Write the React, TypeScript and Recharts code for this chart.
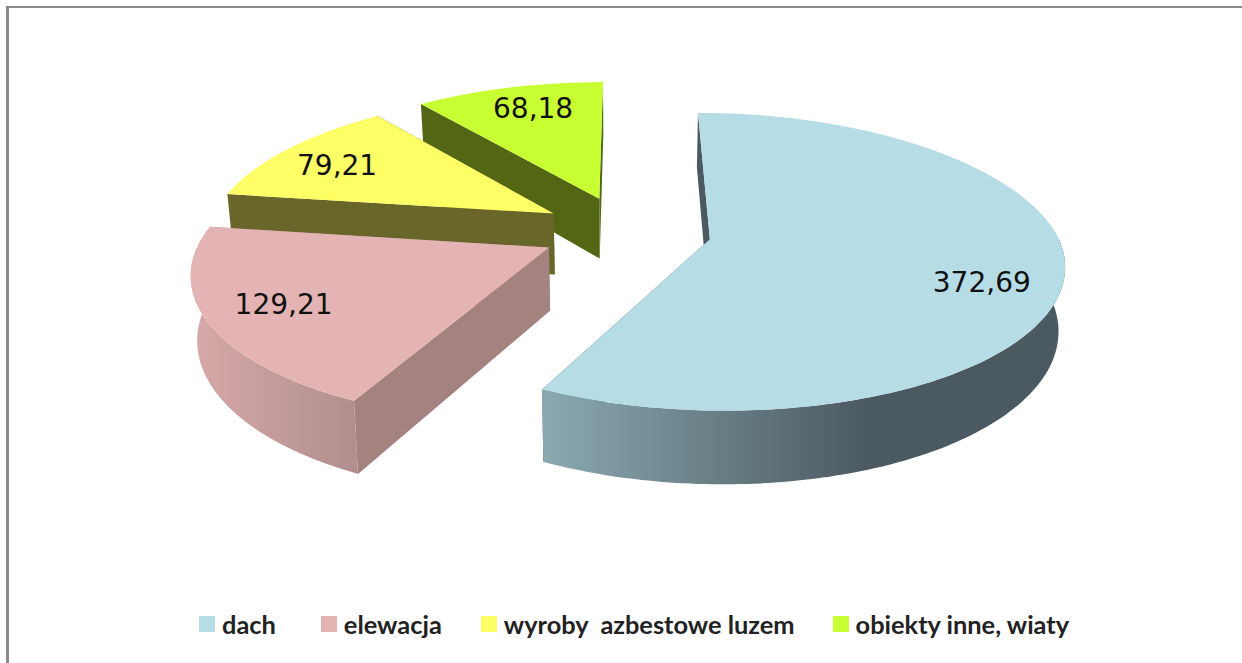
import { PieChart, Pie, Legend } from 'recharts';

const CATEGORIES = ['dach', 'elewacja', 'wyroby  azbestowe luzem', 'obiekty inne, wiaty'];
const VALUES = [372.69, 129.21, 79.21, 68.18];
const COLORS = ['#b6dce6', '#e4b4b4', '#ffff66', '#c8ff33'];
const WALLS = ['#4b5a60', '#a38280', '#686629', '#536614'];
const WALL_LEFT = ['#8ba9b1', '#d8a9a9', '#686629', '#536614'];
const WALL_RIGHT = ['#4b5a60', '#b08e8e', '#686629', '#536614'];

// slices are listed back to front so the nearer ones paint over the further ones
const order = [3, 2, 1, 0];
const pieData = order.map(i => ({
  name: CATEGORIES[i],
  value: VALUES[i],
  fill: COLORS[i],
  wall: WALLS[i],
  wallLeft: WALL_LEFT[i],
  wallRight: WALL_RIGHT[i],
  idx: i,
}));

const SQUASH = 143 / 346;
const PERSPECTIVE_Y = 0.15;
const PERSPECTIVE_X_BACK = 0.165;
const PERSPECTIVE_X_FRONT = 0.15;
const EXPLODE = 0.247;
const DEPTH = 62;
const BOTTOM_SCALE = 0.985;
const LABEL_FRACTION = 0.8;
const LABEL_SHIFT = [[-10, 16], [4, -1], [-1, 4], [8, 1]];
const LEGEND_GAPS = [45, 39, 38, 0];

const rad = (d: number) => (d * Math.PI) / 180;
const midAngleOf = (a: number, b: number) => (a + b) / 2;

function Slice3D(props: any) {
  const { cx, cy, outerRadius: R, startAngle, endAngle, midAngle, payload } = props;
  const ex = EXPLODE * Math.cos(rad(midAngle));
  const ey = EXPLODE * Math.sin(rad(midAngle));
  const project = (a: number, f: number, low: boolean) => {
    const u = f * Math.cos(rad(a)) + ex;
    const v = f * Math.sin(rad(a)) + ey;
    const sx = 1 / (1 + (v < 0 ? PERSPECTIVE_X_FRONT : PERSPECTIVE_X_BACK) * v);
    const sy = 1 / (1 + PERSPECTIVE_Y * v);
    const x = R * u * sx * (low ? BOTTOM_SCALE : 1);
    const y = -R * SQUASH * v * sy + (low ? DEPTH * sy : 0);
    return `${(cx + x).toFixed(1)} ${(cy + y).toFixed(1)}`;
  };
  const a0 = Math.min(startAngle, endAngle);
  const a1 = Math.max(startAngle, endAngle);
  const arc: number[] = [];
  for (let a = a0; a < a1; a += 1) arc.push(a);
  arc.push(a1);
  const front = arc.filter(a => Math.sin(rad(a)) < 0.02);

  const top = `M${project(0, 0, false)} L${arc.map(a => project(a, 1, false)).join(' L')} Z`;
  const wall = (a: number) =>
    `M${project(a, 0, false)} L${project(a, 1, false)} L${project(a, 1, true)} L${project(a, 0, true)} Z`;
  const outer = front.length
    ? `M${front.map(a => project(a, 1, false)).join(' L')} L${[...front].reverse().map(a => project(a, 1, true)).join(' L')} Z`
    : '';
  const gradId = `outer-${payload.idx}`;

  const labelPos = project(midAngleOf(a0, a1), LABEL_FRACTION, false).split(' ').map(Number);
  const shift = LABEL_SHIFT[payload.idx];

  return (
    <g>
      <defs>
        <linearGradient id={gradId} x1="0" y1="0" x2="1" y2="0">
          <stop offset="0" stopColor={payload.wallLeft} />
          <stop offset={payload.idx === 0 ? 0.62 : 1} stopColor={payload.wallRight} />
        </linearGradient>
      </defs>
      <path d={wall(a0)} fill={payload.wall} />
      <path d={wall(a1)} fill={payload.wall} />
      {outer && <path d={outer} fill={`url(#${gradId})`} />}
      <path d={top} fill={payload.fill} />
      <text
        x={labelPos[0] + shift[0]}
        y={labelPos[1] + shift[1]}
        textAnchor="middle"
        dominantBaseline="central"
        fontFamily="DejaVu Sans"
        fontSize={28}
        fill="#111"
      >
        {payload.value.toFixed(2).replace('.', ',')}
      </text>
    </g>
  );
}

function ChartLegend({ payload }: any) {
  const items = [...(payload ?? [])].sort(
    (a: any, b: any) => CATEGORIES.indexOf(a.value) - CATEGORIES.indexOf(b.value),
  );
  return (
    <div style={{ display: 'flex', fontFamily: 'Lato', fontWeight: 700, fontSize: 25.4, color: '#222', whiteSpace: 'pre', alignItems: 'center' }}>
      {items.map((it: any, i: number) => (
        <div key={it.value} style={{ display: 'flex', alignItems: 'center', gap: 7, marginRight: LEGEND_GAPS[i] }}>
          <span style={{ width: 16, height: 16, background: it.color, display: 'inline-block' }} />
          <span>{it.value}</span>
        </div>
      ))}
    </div>
  );
}

export default function App() {
  return (
    <div style={{ position: 'absolute', left: 0, top: 0, width: 1242, height: 663, overflow: 'hidden', background: '#fff' }}>
      <div style={{ position: 'absolute', left: 6, top: 6, width: 1240, height: 670, borderTop: '2px solid #8a8a8a', borderLeft: '3px solid #8a8a8a', boxSizing: 'border-box' }} />
      <PieChart width={1242} height={663} margin={{ top: 0, right: 0, bottom: 0, left: 0 }}>
        <Pie
          data={pieData}
          dataKey="value"
          nameKey="name"
          cx={626}
          cy={231}
          outerRadius={346}
          startAngle={90}
          endAngle={450}
          stroke="none"
          shape={Slice3D}
          isAnimationActive={false}
        />
        <Legend content={ChartLegend} wrapperStyle={{ left: 199, top: 609, width: 'auto', bottom: 'auto' }} />
      </PieChart>
    </div>
  );
}
